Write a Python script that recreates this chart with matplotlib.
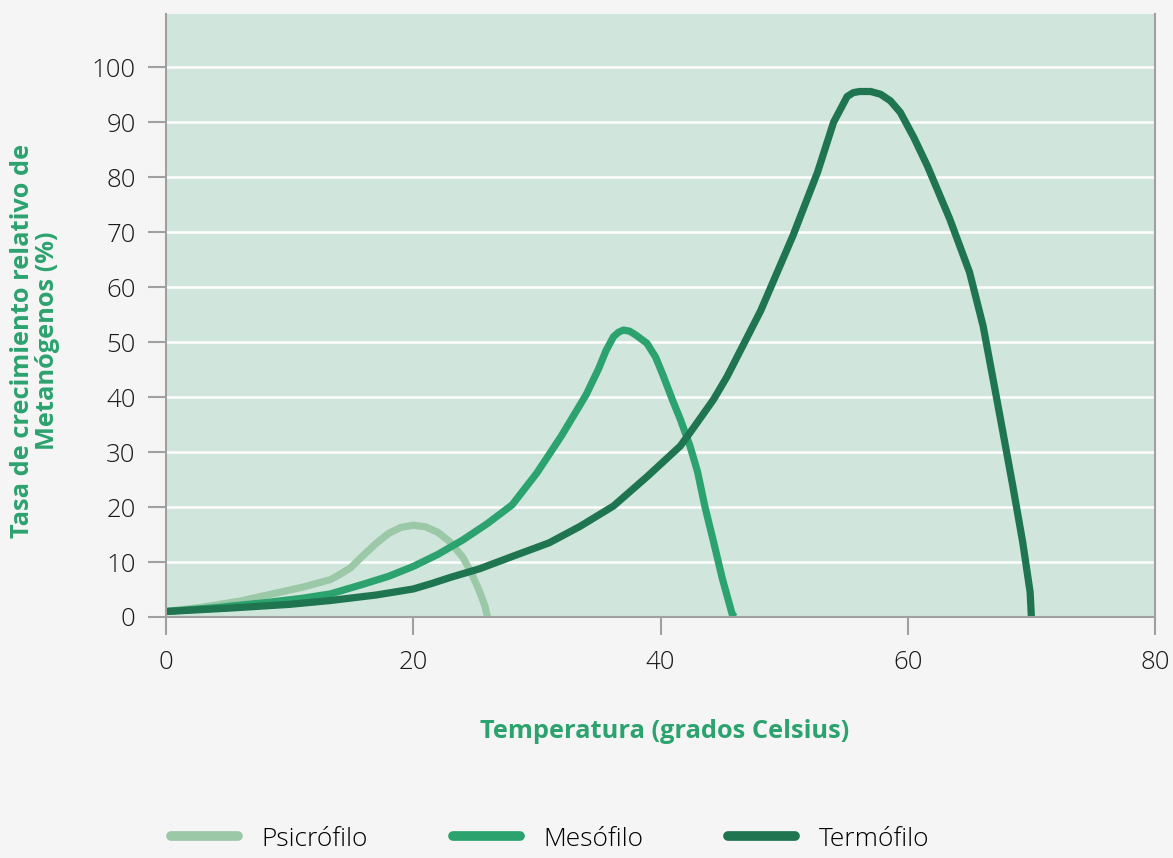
import matplotlib.pyplot as plt

# temperature (C) and relative growth rate (%)
psicro_x = [0, 3, 6, 9.2, 11, 13.3, 14.1, 14.9, 16, 17, 18, 19, 20, 21, 22, 23, 24, 24.7, 25.3, 25.8, 26]
psicro_y = [1.0, 1.8, 2.9, 4.5, 5.4, 6.8, 7.8, 8.9, 11.3, 13.4, 15.2, 16.3, 16.7, 16.4, 15.4, 13.6, 10.9, 8.0, 5.0, 2.0, 0]

meso_x = [0, 4, 8, 11, 13.3, 16, 18, 20, 22, 24, 26, 28, 30, 32, 34, 35, 35.6, 36.2, 36.6, 37, 37.5, 38,
          38.9, 39.6, 40.2, 41, 41.6, 42.4, 43, 43.6, 44.3, 45, 45.8, 46]
meso_y = [1.0, 1.7, 2.6, 3.4, 4.2, 6.0, 7.4, 9.2, 11.4, 14.0, 17.0, 20.4, 26.2, 33.0, 40.5, 45.2, 48.5, 51.0, 51.8, 52.2, 52.0, 51.3,
          49.8, 47.3, 44.0, 39.3, 36.0, 31.0, 26.4, 20.0, 13.6, 7.0, 0.5, 0]

termo_x = [0, 5, 10, 13.3, 17, 20, 21.5, 23, 25.4, 28, 31, 33.5, 36.2, 38.9, 41.6, 42.6, 44.3, 45.4, 48.1, 50.7, 52.7,
           54, 55.1, 55.6, 56.1, 57, 57.8, 58.6, 59.4, 60.5, 61.6, 63.4, 65, 66.1, 66.9, 67.7, 68.5, 69.3, 69.9, 70]
termo_y = [1.0, 1.6, 2.3, 3.0, 4.0, 5.1, 6.1, 7.2, 8.8, 11.0, 13.5, 16.5, 20.2, 25.5, 31.1, 34.2, 39.6, 43.8, 55.7, 69.3, 80.9,
           90.0, 94.7, 95.4, 95.6, 95.6, 95.1, 93.9, 91.8, 87.2, 82.0, 72.4, 62.7, 52.9, 43.3, 33.6, 23.8, 13.6, 4.5, 0]

labels = ["Psicrófilo", "Mesófilo", "Termófilo"]
colors = ["#9bc9a8", "#2ca36e", "#1e7550"]

xticks = [0, 20, 40, 60, 80]
yticks = [0, 10, 20, 30, 40, 50, 60, 70, 80, 90, 100]

fig = plt.figure(figsize=(11.73, 8.58), dpi=100, facecolor="#f5f5f5")
ax = fig.add_axes([166/1173, 1-617/858, (1155-166)/1173, (617-14)/858])
ax.set_facecolor("#d0e5dc")

for xs, ys, lab, col in zip([psicro_x, meso_x, termo_x], [psicro_y, meso_y, termo_y], labels, colors):
    ax.plot(xs, ys, color=col, lw=5.2, label=lab, solid_joinstyle="round", solid_capstyle="butt")

ax.set_xlim(0, 80)
ax.set_ylim(0, 109.7)
ax.set_xticks(xticks)
ax.set_yticks(yticks)
ax.grid(axis="y", color="white", lw=1.8)
ax.set_axisbelow(True)

for s in ["left", "bottom", "right"]:
    ax.spines[s].set_color("#a0a0a0")
    ax.spines[s].set_linewidth(1.5)
ax.spines["top"].set_visible(False)
ax.tick_params(length=13, width=1.5, color="#a0a0a0", labelsize=18.5, labelcolor="#1a1a1a")
ax.tick_params(axis="x", pad=11)
ax.tick_params(axis="y", pad=9)
for t in ax.get_xticklabels() + ax.get_yticklabels():
    t.set_fontfamily("Open Sans")
    t.set_fontweight("light")

fig.text(665/1173, 1-731/858, "Temperatura (grados Celsius)", ha="center", va="center",
         fontsize=18.3, fontweight="bold", color="#2ca36e", family="Open Sans")
fig.text(35/1173, 1-341/858, "Tasa de crecimiento relativo de\nMetanógenos (%)", ha="center", va="center",
         rotation=90, fontsize=18.3, fontweight="bold", color="#2ca36e", family="Open Sans", linespacing=0.95)

handles, labs = ax.get_legend_handles_labels()
leg = fig.legend(handles, labs, loc="center left", bbox_to_anchor=(155/1173, 1-839/858), ncol=3,
                 frameon=False, handlelength=2.55, handletextpad=0.9, columnspacing=3.2,
                 borderpad=0.1, prop={"family": "Open Sans", "weight": "light", "size": 19})
for h in leg.get_lines():
    h.set_linewidth(7)
    h.set_solid_capstyle("round")

fig.savefig("out.png", dpi=100, facecolor=fig.get_facecolor())
